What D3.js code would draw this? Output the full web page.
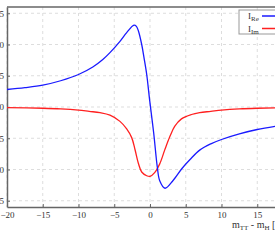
<!DOCTYPE html>
<html>
<head>
<meta charset="utf-8">
<script src="https://cdn.jsdelivr.net/npm/d3@7"></script>
<style>
  body { margin: 0; background: #fff; overflow: hidden; }
  svg { display: block; }
</style>
</head>
<body>
<div id="chart"></div>
<script>
// values
var reX = [-20, -17.5, -15, -12.5, -10, -8, -6.6, -5.6, -4.2, -3.26, -2.24, -1.9, -1.63, -1.16, -0.84, -0.46, -0.05, 0.52, 1.02, 1.36, 2.1, 3.2, 4.5, 5.6, 6.95, 8.5, 10, 12.5, 15, 17.5, 20];
var reY = [0.28, 0.31, 0.35, 0.42, 0.52, 0.64, 0.76, 0.87, 1.05, 1.19, 1.31, 1.29, 1.22, 1.0, 0.79, 0.52, 0.11, -0.42, -0.96, -1.18, -1.30, -1.18, -0.98, -0.84, -0.69, -0.59, -0.52, -0.43, -0.36, -0.31, -0.27];

var imX = [-20, -15, -12.5, -10, -8.5, -7, -5.6, -4.2, -3.26, -2.56, -2.1, -1.63, -1.16, -0.46, 0, 0.65, 1.36, 2.05, 2.75, 3.45, 4.4, 5.8, 6.95, 8.5, 10, 12.5, 15, 17.5, 20];
var imY = [-0.01, -0.02, -0.03, -0.05, -0.07, -0.09, -0.13, -0.23, -0.35, -0.49, -0.68, -0.9, -1.04, -1.10, -1.11, -1.05, -0.91, -0.69, -0.48, -0.31, -0.19, -0.12, -0.09, -0.07, -0.05, -0.03, -0.02, -0.015, -0.01];

var xTicks = [-20, -15, -10, -5, 0, 5, 10, 15, 20];
var yTicks = [-1.5, -1, -0.5, 0, 0.5, 1, 1.5];

var margin = {top: 7, right: 0, bottom: 36, left: 7},
    width = 286,
    height = 200;

var svg = d3.select("#chart")
  .append("svg")
    .attr("width", 275)
    .attr("height", 243)
  .append("g")
    .attr("transform", "translate(" + margin.left + "," + margin.top + ")");

var x = d3.scaleLinear().domain([-20, 20]).range([0, width]);
var y = d3.scaleLinear().domain([-1.6, 1.6]).range([height, 0]);

var font = "'Liberation Serif', 'DejaVu Serif', serif";

// grid
svg.append("g")
  .selectAll("line")
  .data(xTicks)
  .enter().append("line")
    .attr("x1", function(d) { return x(d); })
    .attr("x2", function(d) { return x(d); })
    .attr("y1", 0).attr("y2", height)
    .style("stroke", "#ddd")
    .style("stroke-dasharray", "3,3");
svg.append("g")
  .selectAll("line")
  .data(yTicks)
  .enter().append("line")
    .attr("x1", 0).attr("x2", width)
    .attr("y1", function(d) { return y(d); })
    .attr("y2", function(d) { return y(d); })
    .style("stroke", "#ddd")
    .style("stroke-dasharray", "3,3");

// axes
var xAxis = svg.append("g")
  .attr("transform", "translate(0," + height + ")")
  .call(d3.axisBottom(x).tickValues(xTicks).tickSizeInner(-3).tickSizeOuter(0).tickPadding(5));
var yAxis = svg.append("g")
  .call(d3.axisLeft(y).tickValues(yTicks).tickSizeInner(-3).tickSizeOuter(0).tickPadding(3));

[xAxis, yAxis].forEach(function(a) {
  a.select(".domain").style("stroke", "#666").style("stroke-width", 1.5);
  a.selectAll(".tick line").style("stroke", "#666");
  a.selectAll("text").style("font-family", font).style("font-size", "9px").style("fill", "#333");
});

// top frame
svg.append("line")
  .attr("x1", 0).attr("x2", width)
  .attr("y1", 0).attr("y2", 0)
  .style("stroke", "#666").style("stroke-width", 1.5);

// curves
var reData = reX.map(function(d, i) { return [d, reY[i]]; });
var imData = imX.map(function(d, i) { return [d, imY[i]]; });

var line = d3.line()
  .x(function(d) { return x(d[0]); })
  .y(function(d) { return y(d[1]); })
  .curve(d3.curveCatmullRom.alpha(0.5));

svg.append("path")
  .datum(imData)
  .attr("d", line)
  .style("fill", "none")
  .style("stroke", "#ff2020")
  .style("stroke-width", 1.3);

svg.append("path")
  .datum(reData)
  .attr("d", line)
  .style("fill", "none")
  .style("stroke", "#1a1aff")
  .style("stroke-width", 1.3);

// legend
var legend = svg.append("g").attr("transform", "translate(232,3)");
legend.append("rect")
  .attr("width", 70).attr("height", 24)
  .style("fill", "#fff")
  .style("stroke", "#999");

var legendItems = [{name: "Re", color: "#1a1aff"}, {name: "Im", color: "#ff2020"}];
legendItems.forEach(function(item, i) {
  var t = legend.append("text")
    .attr("x", 9)
    .attr("y", 9 + i * 12.5)
    .style("font-family", font)
    .style("font-size", "9px")
    .style("fill", "#333");
  t.append("tspan").text("I");
  t.append("tspan").attr("dy", 2).style("font-size", "7px").text(item.name);
  legend.append("line")
    .attr("x1", 23).attr("x2", 60)
    .attr("y1", 6 + i * 12.5).attr("y2", 6 + i * 12.5)
    .style("stroke", item.color)
    .style("stroke-width", 1.3);
});

// x label
var xl = svg.append("text")
  .attr("x", 225)
  .attr("y", 221)
  .style("font-family", font)
  .style("font-size", "10px")
  .style("fill", "#333");
xl.append("tspan").text("m");
xl.append("tspan").attr("dy", 2).style("font-size", "7px").text("TT");
xl.append("tspan").attr("dy", -2).text(" - m");
xl.append("tspan").attr("dy", 2).style("font-size", "7px").text("H");
xl.append("tspan").attr("dy", -2).text(" [MeV]");
</script>
</body>
</html>
